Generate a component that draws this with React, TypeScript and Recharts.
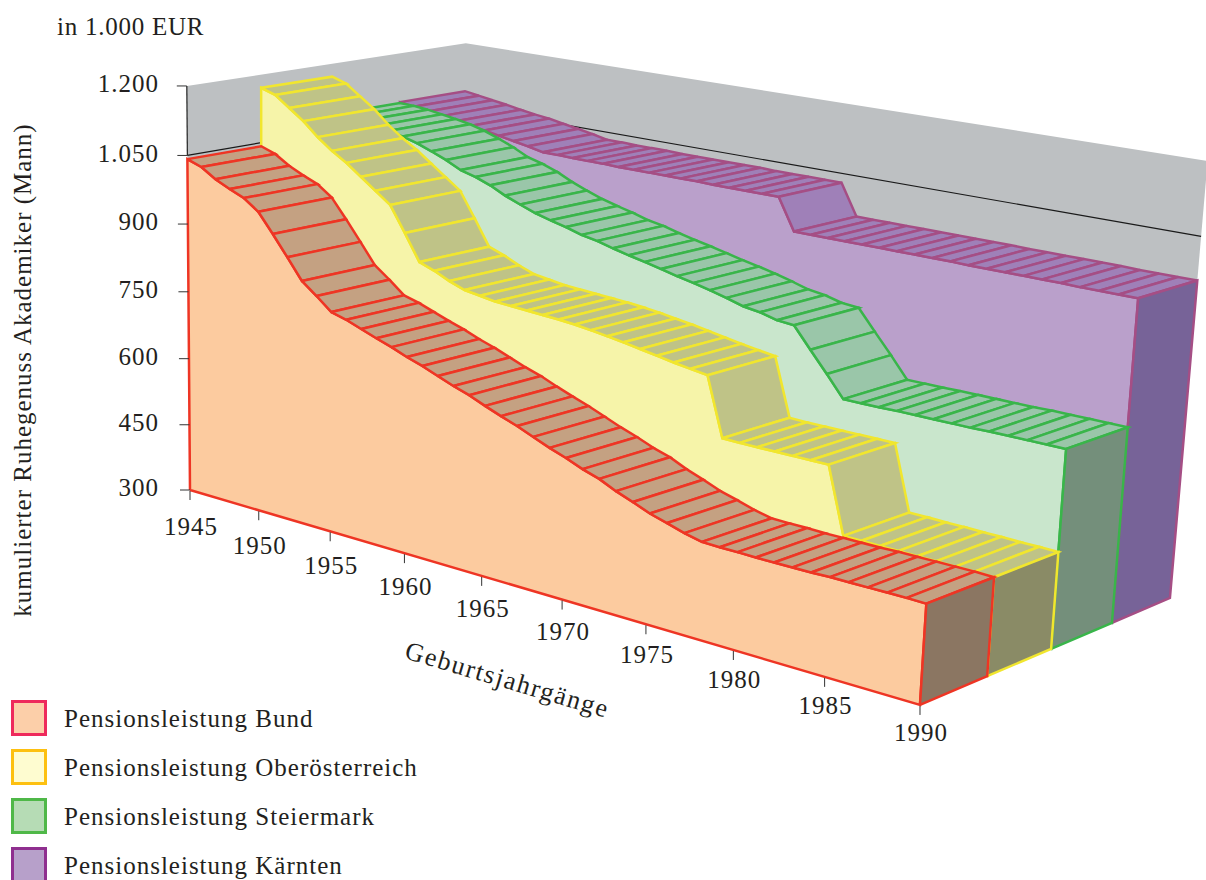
import React from "react";
import { ScatterChart, Scatter, XAxis, YAxis } from "recharts";

const years = Array.from({ length: 46 }, (_, i) => 1945 + i);

const bund = [
  1042, 1031, 1011, 996, 983, 960, 919, 876, 832, 807,
  780, 771, 759, 747, 736, 723, 712, 699, 686, 675,
  661, 648, 636, 622, 608, 596, 582, 571, 555, 542,
  528, 518, 507, 499, 498, 498, 497, 497, 497, 497,
  498, 498, 498, 498, 498, 497,
];
const oberoesterreich = [
  1171, 1161, 1138, 1115, 1086, 1062, 1042, 1018, 994, 970,
  916, 860, 848, 833, 821, 816, 811, 809, 807, 805,
  803, 800, 796, 791, 786, 780, 774, 768, 763, 758,
  637, 636, 636, 636, 636, 636, 636, 501, 501, 500,
  500, 499, 499, 498, 498, 497,
];
const steiermark = [
  1086, 1085, 1082, 1077, 1072, 1066, 1057, 1045, 1032, 1016,
  1007, 995, 979, 966, 954, 945, 937, 927, 921, 912,
  904, 897, 889, 881, 874, 866, 857, 847, 842, 833,
  830, 787, 745, 701, 701, 701, 702, 702, 702, 702,
  702, 703, 703, 703, 703, 703,
];
const kaernten = [
  1088, 1083, 1078, 1073, 1067, 1062, 1058, 1052, 1046, 1040,
  1033, 1033, 1032, 1032, 1032, 1031, 1031, 1031, 1031, 1031,
  1031, 1030, 1030, 1030, 1030, 1030, 963, 963, 963, 963,
  963, 963, 963, 963, 963, 963, 962, 962, 962, 962,
  962, 962, 961, 961, 961, 961,
];

const valueTicks = [300, 450, 600, 750, 900, 1050, 1200];
const yearTicks = [1945, 1950, 1955, 1960, 1965, 1970, 1975, 1980, 1985, 1990];
const gridValue = 1050;

// back to front, the painting order of the 3D chart
const series = [
  { name: "Pensionsleistung Kärnten", values: kaernten, depth: 0.75, stroke: "#a54e85", face: "#baa0cb", top: "#9f80b8", side: "#776398" },
  { name: "Pensionsleistung Steiermark", values: steiermark, depth: 0.5, stroke: "#39b54a", face: "#c9e6cc", top: "#9ac6a9", side: "#748f7b" },
  { name: "Pensionsleistung Oberösterreich", values: oberoesterreich, depth: 0.25, stroke: "#f1e62e", face: "#f6f4a9", top: "#bfc387", side: "#8a8b66" },
  { name: "Pensionsleistung Bund", values: bund, depth: 0, stroke: "#ee3524", face: "#fccb9f", top: "#c4a182", side: "#8b7662" },
];

const legendItems = [
  { name: "Pensionsleistung Bund", border: "#ee2a5c", fill: "#fccfa9" },
  { name: "Pensionsleistung Oberösterreich", border: "#fdc010", fill: "#fefcd0" },
  { name: "Pensionsleistung Steiermark", border: "#4fb848", fill: "#b6dcb5" },
  { name: "Pensionsleistung Kärnten", border: "#8f2f8f", fill: "#b7a0ca" },
];

const FONT = "'Liberation Serif', serif";
const TEXT = "#231f20";
const WALL = "#bdc0c2";
const SPACING = 1;

// perspective camera: vanishing points of the year, depth and value directions
const kT = -0.1682, kD = 0.0863, kV = -0.03702;
const O = { x: 190, y: 490 };
const VT = { x: -3420, y: -573 };
const VD = { x: 3579, y: -433 };
const VV = { x: 273, y: 11000 };

const project = (year: number, depth: number, value: number) => {
  const t = (year - 1945) / 45;
  const h = (value - 300) / 900;
  const w = 1 + t * kT + depth * kD + h * kV;
  return {
    x: (O.x + t * kT * VT.x + depth * kD * VD.x + h * kV * VV.x) / w,
    y: (O.y + t * kT * VT.y + depth * kD * VD.y + h * kV * VV.y) / w,
  };
};

const noMark = () => <g />;

const Poly = (key: string, pts: any[], fill: string, stroke: string, width = 2.5) => (
  <Scatter
    key={key}
    data={pts}
    shape={noMark}
    line={{ fill, stroke, strokeWidth: width, strokeLinejoin: "miter" }}
    isAnimationActive={false}
  />
);

const close = (pts: any[]) => [...pts, pts[0]];

const seriesPolys = (s: any) => {
  const d0 = s.depth;
  const d1 = s.depth + 0.25;
  const out: any[] = [];
  const front = years.map((y, i) => project(y, d0, s.values[i]));
  out.push(
    Poly(`${s.name}-face`, close([project(1945, d0, 300), ...front, project(1990, d0, 300)]), s.face, s.stroke)
  );
  years.slice(0, -1).forEach((y, i) => {
    out.push(
      Poly(
        `${s.name}-top-${y}`,
        close([
          project(y, d0, s.values[i]),
          project(y + 1, d0, s.values[i + 1]),
          project(y + 1, d1, s.values[i + 1]),
          project(y, d1, s.values[i]),
        ]),
        s.top,
        s.stroke
      )
    );
  });
  const last = s.values[s.values.length - 1];
  out.push(
    Poly(
      `${s.name}-side`,
      close([project(1990, d0, 300), project(1990, d0, last), project(1990, d1, last), project(1990, d1, 300)]),
      s.side,
      s.stroke
    )
  );
  return out;
};

const labelShape = (p: any) => {
  const { cx, cy, payload } = p;
  return (
    <text
      x={cx}
      y={cy}
      fontFamily={FONT}
      fontSize={payload.size || 25}
      fill={TEXT}
      letterSpacing={payload.spacing ?? SPACING}
      textAnchor={payload.anchor || "middle"}
      transform={payload.rotate ? `rotate(${payload.rotate} ${cx} ${cy})` : undefined}
    >
      {payload.text}
    </text>
  );
};

const valueLabels = valueTicks.map((v) => {
  const p = project(1945, 0, v);
  return {
    x: 159,
    y: p.y + (v === gridValue ? 7 : 6),
    text: v >= 1000 ? `${Math.floor(v / 1000)}.${String(v % 1000).padStart(3, "0")}` : String(v),
    anchor: "end",
  };
});

const yearLabels = yearTicks.map((y) => {
  const p = project(y, 0, 300);
  const t = (y - 1945) / 45;
  return { x: p.x + 1, y: p.y + 45 - 9 * t, text: String(y) };
});

const titleLabels = [
  { x: 57, y: 35, text: "in 1.000 EUR", anchor: "start", spacing: 0.75 },
  { x: 31, y: 370, text: "kumulierter Ruhegenuss Akademiker (Mann)", rotate: -90 },
  { x: 505, y: 688, text: "Geburtsjahrgänge", rotate: 16.5, size: 26, spacing: 1.7 },
];

export default function App() {
  return (
    <div style={{ position: "absolute", left: 0, top: 0, width: 1206, height: 880, overflow: "hidden", background: "#fff" }}>
      <ScatterChart width={1206} height={880} margin={{ top: 0, right: 0, bottom: 0, left: 0 }}>
        <XAxis type="number" dataKey="x" domain={[0, 1206]} allowDataOverflow hide />
        <YAxis type="number" dataKey="y" domain={[0, 880]} reversed allowDataOverflow hide />

        {Poly("wall", close([project(1945, 0, 300), project(1945, 0, 1200), project(1945, 1, 1200), project(1990, 1, 1200), project(1990, 1, 300)]), WALL, "none", 0)}
        {Poly("grid", [project(1945, 0, gridValue), project(1945, 1, gridValue), project(1990, 1, gridValue)], "none", "#1a1a1a", 1.2)}

        {series.flatMap(seriesPolys)}

        {Poly("value-axis", [project(1945, 0, gridValue), project(1945, 0, 1200)], "none", "#222", 1.2)}
        {valueTicks.map((v) => {
          const p = project(1945, 0, v);
          return Poly(`vt-${v}`, [{ x: p.x - 10, y: p.y }, p], "none", "#333", 1);
        })}
        {yearTicks.map((y) => {
          const p = project(y, 0, 300);
          return Poly(`yt-${y}`, [{ x: p.x, y: p.y + 1 }, { x: p.x, y: p.y + 10 }], "none", "#333", 1);
        })}

        <Scatter data={valueLabels} shape={labelShape} isAnimationActive={false} />
        <Scatter data={yearLabels} shape={labelShape} isAnimationActive={false} />
        <Scatter data={titleLabels} shape={labelShape} isAnimationActive={false} />
      </ScatterChart>

      {legendItems.map((item, i) => (
        <div key={item.name} style={{ position: "absolute", left: 11, top: 700 + i * 49 }}>
          <div style={{ width: 30, height: 30, border: `3px solid ${item.border}`, background: item.fill }} />
          <div style={{ position: "absolute", left: 53, top: 5, whiteSpace: "nowrap", fontFamily: FONT, fontSize: 25, letterSpacing: SPACING, color: TEXT }}>
            {item.name}
          </div>
        </div>
      ))}
    </div>
  );
}
